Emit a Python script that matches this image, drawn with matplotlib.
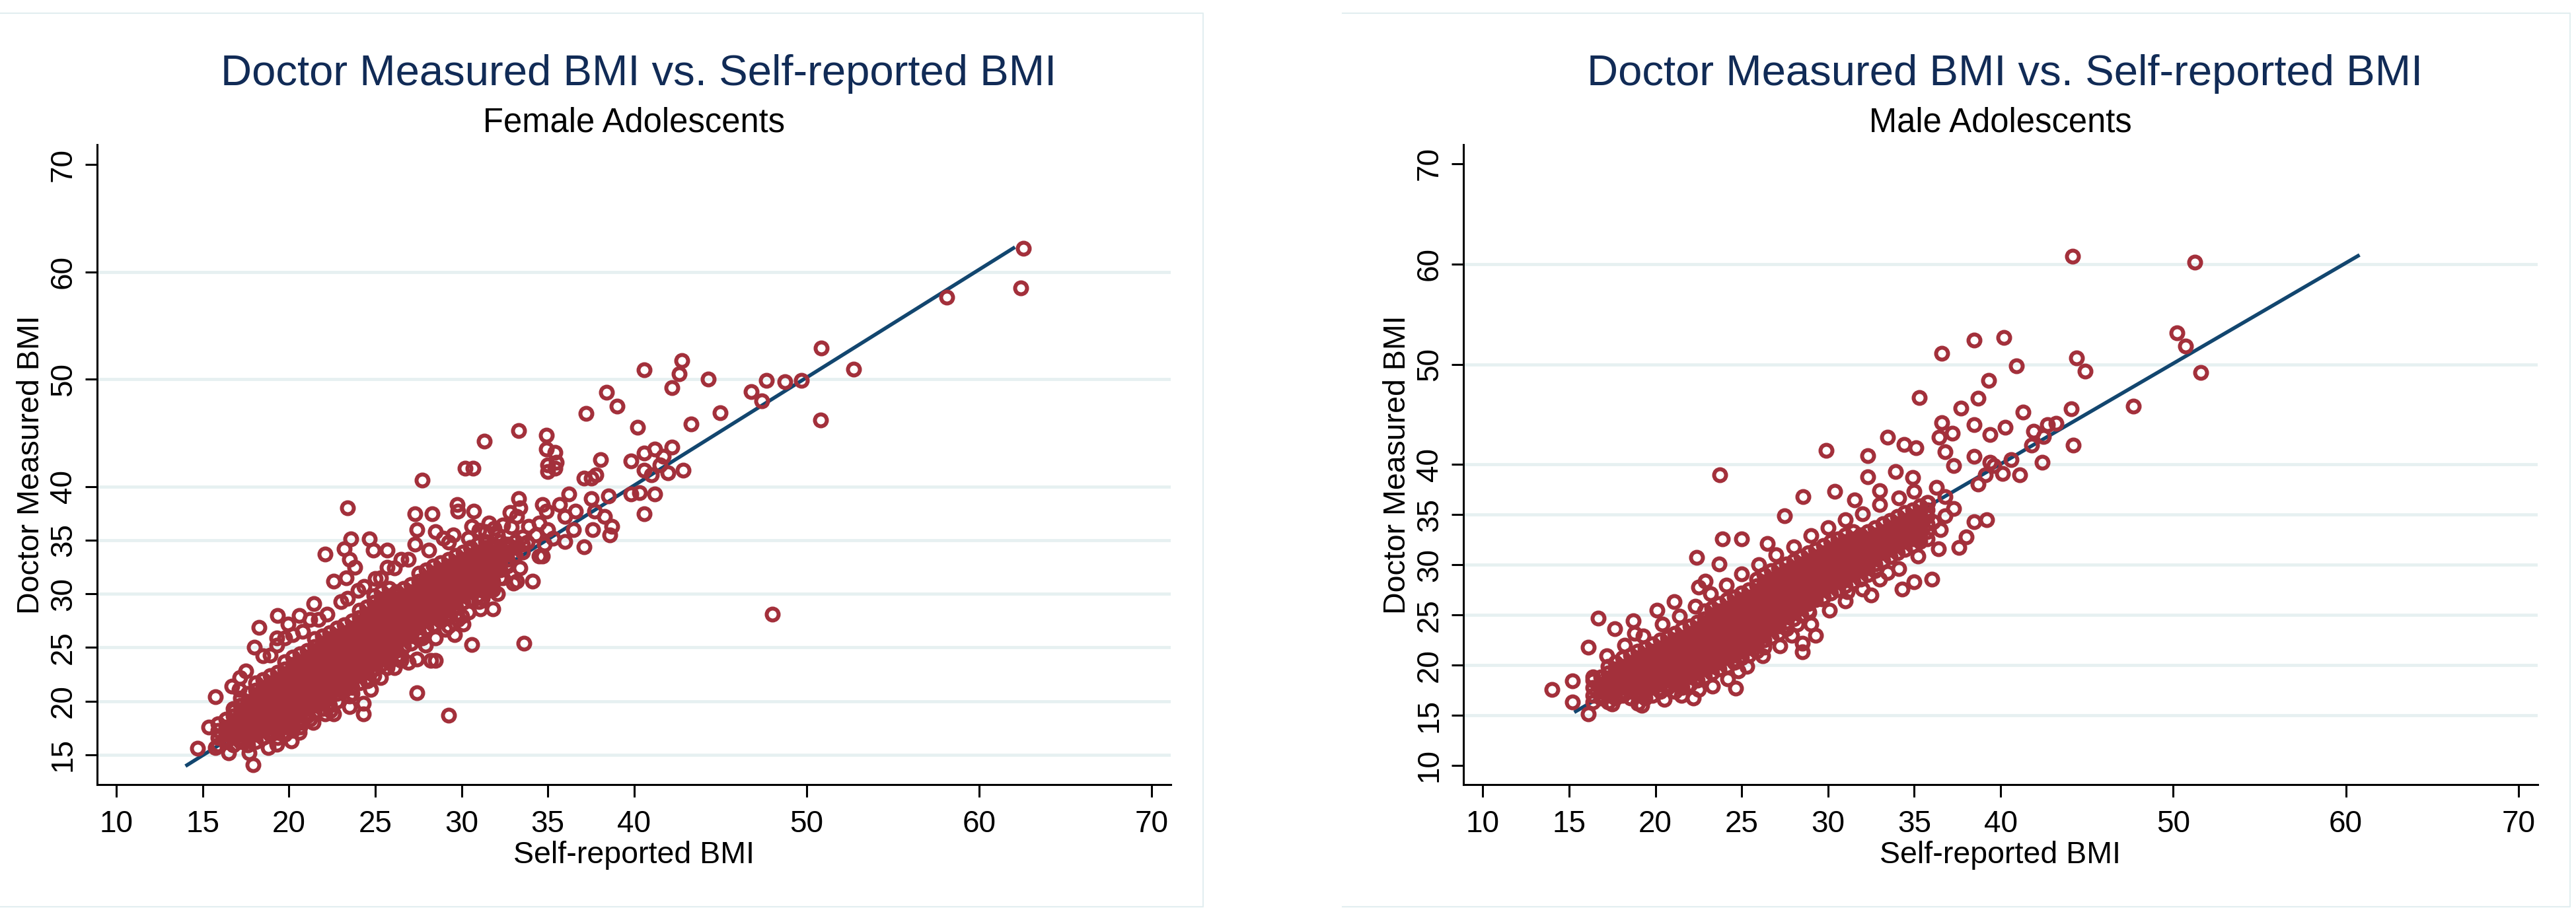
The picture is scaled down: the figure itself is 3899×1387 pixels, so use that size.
import matplotlib
matplotlib.use("Agg")
import matplotlib.pyplot as plt
from matplotlib.lines import Line2D

plt.rcParams["font.family"] = ["Liberation Sans", "DejaVu Sans"]

MARKER_C = "#A3303B"
FIT_C = "#12466F"
TITLE_C = "#112B56"
GRID_C = "#E6F0F1"
FRAME_C = "#E2EEF0"

TITLE = "Doctor Measured BMI vs. Self-reported BMI"
SUBTITLES = ["Female Adolescents", "Male Adolescents"]
XLABEL = "Self-reported BMI"
YLABEL = "Doctor Measured BMI"

X_TICKS = [10, 15, 20, 25, 30, 35, 40, 50, 60, 70]
FEM_Y_TICKS = [15, 20, 25, 30, 35, 40, 50, 60, 70]
MALE_Y_TICKS = [10, 15, 20, 25, 30, 35, 40, 50, 60, 70]
# Stata leaves out the gridline next to the edge of the plot region
FEM_GRID = [15, 20, 25, 30, 35, 40, 50, 60]
MALE_GRID = [15, 20, 25, 30, 35, 40, 50, 60]

# fitted line end points
FEM_FIT_X = [14.0, 62.07]
FEM_FIT_Y = [13.95, 62.3]
MALE_FIT_X = [15.3, 60.8]
MALE_FIT_Y = [15.3, 60.9]

# --- female: dense core, one column of points per self-reported value ---
FEM_CORE = [
    (15.90, [15.9, 16.6, 17.3, 17.9]),
    (16.33, [16.2, 16.9, 17.6, 18.3]),
    (16.76, [15.9, 16.6, 17.3, 17.9, 18.6, 19.3]),
    (17.19, [16.2, 16.9, 17.6, 18.3, 19.0, 19.6, 20.3]),
    (17.62, [15.9, 16.6, 17.3, 17.9, 18.6, 19.3, 20.0, 20.7]),
    (18.05, [16.2, 16.9, 17.6, 18.3, 19.0, 19.6, 20.3, 21.0, 21.7]),
    (18.48, [16.6, 17.3, 17.9, 18.6, 19.3, 20.0, 20.7, 21.3, 22.0]),
    (18.91, [16.9, 17.6, 18.3, 19.0, 19.6, 20.3, 21.0, 21.7, 22.4]),
    (19.34, [16.6, 17.3, 17.9, 18.6, 19.3, 20.0, 20.7, 21.3, 22.0, 22.7]),
    (19.77, [16.9, 17.6, 18.3, 19.0, 19.6, 20.3, 21.0, 21.7, 22.4, 23.0, 23.7]),
    (20.20, [17.3, 17.9, 18.6, 19.3, 20.0, 20.7, 21.3, 22.0, 22.7, 23.4, 24.1]),
    (20.63, [17.6, 18.3, 19.0, 19.6, 20.3, 21.0, 21.7, 22.4, 23.0, 23.7, 24.4]),
    (21.06, [18.6, 19.3, 20.0, 20.7, 21.3, 22.0, 22.7, 23.4, 24.1, 24.7]),
    (21.49, [19.0, 19.6, 20.3, 21.0, 21.7, 22.4, 23.0, 23.7, 24.4, 25.1, 25.8]),
    (21.92, [19.3, 20.0, 20.7, 21.3, 22.0, 22.7, 23.4, 24.1, 24.7, 25.4, 26.1]),
    (22.35, [19.6, 20.3, 21.0, 21.7, 22.4, 23.0, 23.7, 24.4, 25.1, 25.8, 26.4]),
    (22.78, [20.0, 20.7, 21.3, 22.0, 22.7, 23.4, 24.1, 24.7, 25.4, 26.1, 26.8]),
    (23.21, [21.0, 21.7, 22.4, 23.0, 23.7, 24.4, 25.1, 25.8, 26.4, 27.1]),
    (23.64, [20.7, 21.3, 22.0, 22.7, 23.4, 24.1, 24.7, 25.4, 26.1, 26.8, 27.5]),
    (24.07, [21.7, 22.4, 23.0, 23.7, 24.4, 25.1, 25.8, 26.4, 27.1, 27.8, 28.5]),
    (24.50, [22.0, 22.7, 23.4, 24.1, 24.7, 25.4, 26.1, 26.8, 27.5, 28.1, 28.8]),
    (24.93, [22.4, 23.0, 23.7, 24.4, 25.1, 25.8, 26.4, 27.1, 27.8, 28.5, 29.2, 29.8]),
    (25.36, [23.4, 24.1, 24.7, 25.4, 26.1, 26.8, 27.5, 28.1, 28.8, 29.5, 30.2]),
    (25.79, [23.7, 24.4, 25.1, 25.8, 26.4, 27.1, 27.8, 28.5, 29.2, 29.8, 30.5]),
    (26.22, [24.1, 24.7, 25.4, 26.1, 26.8, 27.5, 28.1, 28.8, 29.5, 30.2]),
    (26.65, [25.1, 25.8, 26.4, 27.1, 27.8, 28.5, 29.2, 29.8, 30.5]),
    (27.08, [25.4, 26.1, 26.8, 27.5, 28.1, 28.8, 29.5, 30.2, 30.9]),
    (27.51, [25.8, 26.4, 27.1, 27.8, 28.5, 29.2, 29.8, 30.5, 31.2, 31.9]),
    (27.94, [26.8, 27.5, 28.1, 28.8, 29.5, 30.2, 30.9, 31.5, 32.2]),
    (28.37, [27.1, 27.8, 28.5, 29.2, 29.8, 30.5, 31.2, 31.9, 32.6]),
    (28.80, [27.5, 28.1, 28.8, 29.5, 30.2, 30.9, 31.5, 32.2, 32.9]),
    (29.23, [27.8, 28.5, 29.2, 29.8, 30.5, 31.2, 31.9, 32.6, 33.2]),
    (29.66, [28.1, 28.8, 29.5, 30.2, 30.9, 31.5, 32.2, 32.9, 33.6]),
    (30.09, [29.2, 29.8, 30.5, 31.2, 31.9, 32.6, 33.2, 33.9]),
    (30.52, [29.5, 30.2, 30.9, 31.5, 32.2, 32.9, 33.6, 34.3]),
    (30.95, [29.8, 30.5, 31.2, 31.9, 32.6, 33.2, 33.9, 34.6]),
    (31.38, [30.2, 30.9, 31.5, 32.2, 32.9, 33.6, 34.3, 34.9]),
    (31.81, [30.5, 31.2, 31.9, 32.6, 33.2, 33.9, 34.6]),
    (32.24, [31.5, 32.2, 32.9, 33.6, 34.3, 34.9]),
    (32.67, [32.6, 33.2, 33.9, 34.6]),
    (33.10, [33.6, 34.3, 34.9]),
    (33.53, [33.9, 34.6, 35.3]),
]

# --- female: scattered points around the core and outliers ---
FEM_X = [
    14.7, 17.9, 15.75, 15.35, 16.8, 17.15, 17.1, 18.25, 18.0, 19.35, 19.95, 20.6,
    21.45, 19.3, 18.9, 19.75, 21.7, 20.8, 20.15, 18.8, 20.8, 22.1, 23.5, 24.3,
    24.3, 24.55, 27.4, 29.25, 25.7, 26.5, 27.4, 28.2, 28.5, 30.6, 33.6, 29.6,
    30.1, 29.25, 31.1, 31.8, 32.1, 33.0, 33.2, 34.1, 33.4, 34.5, 34.7, 23.0,
    24.0, 22.6, 23.3, 23.8, 23.5, 23.2, 23.6, 22.1, 23.4, 24.65, 24.9, 25.7,
    25.0, 25.7, 26.5, 27.3, 27.4, 27.3, 28.3, 27.7, 28.5, 28.95, 29.5, 29.75,
    29.8, 30.7, 30.6, 30.2, 30.65, 31.3, 31.6, 32.1, 32.8, 33.3, 33.4, 33.2,
    33.3, 34.9, 34.9, 35.4, 35.5, 35.0, 35.0, 35.4, 34.7, 34.9, 35.7, 36.2,
    36.6, 36.0, 36.5, 36.0, 37.1, 37.5, 37.7, 37.1, 37.5, 37.8, 38.05, 37.2,
    38.4, 39.0, 37.6, 38.3, 38.7, 38.6, 38.5, 39.8, 40.2, 40.6, 39.8, 40.3,
    40.6, 41.2, 40.6, 41.2, 41.7, 42.2, 40.6, 41.0, 41.95, 41.5, 42.85, 42.2,
    42.6, 42.75, 43.3, 44.3, 45.0, 46.8, 47.4, 47.65, 48.75, 49.7, 50.8, 50.85,
    52.7, 48.0, 58.1, 62.4, 62.57,
    33.8, 34.3, 34.8, 35.3, 33.9, 34.5, 35.0, 32.9, 32.4, 31.0, 31.9,
    29.05, 29.8, 31.0, 31.6, 27.7, 26.5,
    22.4, 21.2, 20.6, 19.3, 17.7, 16.5, 15.75,
    21.4, 22.6, 23.5, 24.75, 25.3, 26.1, 26.9, 27.9, 28.5, 29.05, 30.0, 30.4,
    31.2, 31.8, 32.4, 32.6,
    16.7, 17.5, 18.5, 19.3, 20.2, 21.2, 22.2, 23.4, 24.35, 25.3, 26.1, 26.9,
    28.1, 29.25, 30.4, 31.4,
]
FEM_Y = [
    15.6, 14.1, 20.4, 17.6, 19.1, 22.2, 21.1, 26.9, 25.0, 28.0, 27.2, 28.0,
    29.1, 25.2, 24.3, 25.9, 27.6, 26.5, 16.3, 15.7, 18.0, 18.8, 20.5, 19.8,
    18.8, 21.9, 20.8, 18.7, 23.1, 23.8, 23.9, 23.8, 23.8, 25.3, 25.4, 26.2,
    27.2, 27.0, 28.6, 28.6, 30.0, 31.0, 31.2, 31.2, 32.4, 33.5, 33.5, 29.3,
    30.3, 31.2, 31.5, 32.5, 33.2, 34.2, 35.1, 33.7, 38.0, 35.1, 34.1, 34.1,
    31.4, 32.5, 33.2, 34.6, 36.0, 37.45, 37.45, 40.6, 35.8, 35.2, 35.5, 38.3,
    37.7, 37.7, 36.3, 41.7, 41.7, 44.2, 36.6, 35.5, 37.6, 38.9, 38.0, 37.2,
    45.2, 44.8, 43.5, 43.2, 42.25, 42.0, 41.4, 41.7, 38.3, 37.7, 38.3, 39.3,
    37.7, 37.2, 36.0, 34.9, 34.35, 38.9, 37.7, 40.8, 40.8, 41.1, 42.5, 46.8,
    48.8, 47.5, 36.0, 37.2, 36.3, 35.5, 39.1, 42.4, 45.5, 50.85, 39.3, 39.4,
    37.45, 39.3, 43.1, 43.5, 42.8, 43.7, 41.5, 41.1, 41.3, 42.0, 41.5, 49.2,
    50.5, 51.7, 45.8, 50.0, 46.9, 48.85, 47.97, 49.9, 49.75, 49.9, 46.2, 52.9,
    50.9, 28.1, 57.65, 58.5, 62.2,
    34.8, 35.5, 34.6, 35.2, 36.3, 36.6, 36.0, 36.2, 36.4, 35.9, 36.1,
    27.9, 27.6, 29.3, 30.4, 25.9, 24.2,
    19.1, 18.3, 17.1, 16.0, 15.2, 15.2, 15.7,
    18.0, 18.8, 19.5, 21.1, 22.2, 23.1, 23.6, 25.2, 25.9, 26.7, 27.9, 28.3,
    29.6, 30.4, 31.5, 32.7,
    21.4, 22.8, 24.2, 25.9, 26.2, 27.6, 28.1, 29.6, 30.7, 31.5, 32.4, 33.2,
    34.1, 34.8, 35.2, 35.8,
]

# --- male: dense core ---
MALE_CORE = [
    (16.40, [16.3, 17.0, 17.8, 18.5]),
    (16.83, [16.7, 17.4, 18.1, 18.8]),
    (17.26, [16.3, 17.0, 17.8, 18.5, 19.2, 19.9]),
    (17.69, [16.7, 17.4, 18.1, 18.8, 19.6, 20.3]),
    (18.12, [17.0, 17.8, 18.5, 19.2, 19.9, 20.7]),
    (18.55, [16.7, 17.4, 18.1, 18.8, 19.6, 20.3, 21.0]),
    (18.98, [17.0, 17.8, 18.5, 19.2, 19.9, 20.7, 21.4]),
    (19.41, [16.7, 17.4, 18.1, 18.8, 19.6, 20.3, 21.0, 21.7]),
    (19.84, [17.0, 17.8, 18.5, 19.2, 19.9, 20.7, 21.4, 22.1]),
    (20.27, [17.4, 18.1, 18.8, 19.6, 20.3, 21.0, 21.7, 22.5]),
    (20.70, [17.8, 18.5, 19.2, 19.9, 20.7, 21.4, 22.1, 22.8]),
    (21.13, [17.4, 18.1, 18.8, 19.6, 20.3, 21.0, 21.7, 22.5, 23.2]),
    (21.56, [17.8, 18.5, 19.2, 19.9, 20.7, 21.4, 22.1, 22.8, 23.6]),
    (21.99, [18.1, 18.8, 19.6, 20.3, 21.0, 21.7, 22.5, 23.2, 23.9]),
    (22.42, [18.5, 19.2, 19.9, 20.7, 21.4, 22.1, 22.8, 23.6, 24.3]),
    (22.85, [18.8, 19.6, 20.3, 21.0, 21.7, 22.5, 23.2, 23.9, 24.6, 25.4]),
    (23.28, [19.2, 19.9, 20.7, 21.4, 22.1, 22.8, 23.6, 24.3, 25.0, 25.7]),
    (23.71, [19.6, 20.3, 21.0, 21.7, 22.5, 23.2, 23.9, 24.6, 25.4, 26.1]),
    (24.14, [19.9, 20.7, 21.4, 22.1, 22.8, 23.6, 24.3, 25.0, 25.7, 26.5]),
    (24.57, [20.3, 21.0, 21.7, 22.5, 23.2, 23.9, 24.6, 25.4, 26.1, 26.8]),
    (25.00, [20.7, 21.4, 22.1, 22.8, 23.6, 24.3, 25.0, 25.7, 26.5, 27.2]),
    (25.43, [21.0, 21.7, 22.5, 23.2, 23.9, 24.6, 25.4, 26.1, 26.8, 27.5]),
    (25.86, [21.4, 22.1, 22.8, 23.6, 24.3, 25.0, 25.7, 26.5, 27.2, 27.9, 28.6]),
    (26.29, [22.5, 23.2, 23.9, 24.6, 25.4, 26.1, 26.8, 27.5, 28.3, 29.0]),
    (26.72, [22.8, 23.6, 24.3, 25.0, 25.7, 26.5, 27.2, 27.9, 28.6, 29.4]),
    (27.15, [23.2, 23.9, 24.6, 25.4, 26.1, 26.8, 27.5, 28.3, 29.0, 29.7]),
    (27.58, [23.6, 24.3, 25.0, 25.7, 26.5, 27.2, 27.9, 28.6, 29.4, 30.1]),
    (28.01, [24.6, 25.4, 26.1, 26.8, 27.5, 28.3, 29.0, 29.7, 30.4]),
    (28.44, [25.0, 25.7, 26.5, 27.2, 27.9, 28.6, 29.4, 30.1, 30.8]),
    (28.87, [25.4, 26.1, 26.8, 27.5, 28.3, 29.0, 29.7, 30.4, 31.2]),
    (29.30, [26.5, 27.2, 27.9, 28.6, 29.4, 30.1, 30.8, 31.5]),
    (29.73, [26.8, 27.5, 28.3, 29.0, 29.7, 30.4, 31.2, 31.9]),
    (30.16, [27.2, 27.9, 28.6, 29.4, 30.1, 30.8, 31.5, 32.3]),
    (30.59, [27.5, 28.3, 29.0, 29.7, 30.4, 31.2, 31.9, 32.6]),
    (31.02, [27.9, 28.6, 29.4, 30.1, 30.8, 31.5, 32.3, 33.0]),
    (31.45, [28.3, 29.0, 29.7, 30.4, 31.2, 31.9, 32.6, 33.3]),
    (31.88, [28.6, 29.4, 30.1, 30.8, 31.5, 32.3, 33.0]),
    (32.31, [29.0, 29.7, 30.4, 31.2, 31.9, 32.6, 33.3]),
    (32.74, [29.4, 30.1, 30.8, 31.5, 32.3, 33.0, 33.7]),
    (33.17, [30.4, 31.2, 31.9, 32.6, 33.3, 34.1]),
    (33.60, [30.8, 31.5, 32.3, 33.0, 33.7, 34.4]),
    (34.03, [31.2, 31.9, 32.6, 33.3, 34.1, 34.8]),
    (34.46, [31.5, 32.3, 33.0, 33.7, 34.4, 35.2]),
    (34.89, [31.9, 32.6, 33.3, 34.1, 34.8, 35.5]),
    (35.32, [32.3, 33.0, 33.7, 34.4, 35.2, 35.9]),
    (35.75, [32.6, 33.3, 34.1, 34.8, 35.5, 36.2]),
]

# --- male: scattered points and outliers ---
MALE_X = [
    44.16, 51.25, 50.2, 50.7, 51.6, 40.2, 38.45, 36.6, 44.4, 44.9, 40.9, 39.3,
    35.3, 38.7, 37.7, 41.3, 44.1, 47.7, 36.6, 38.45, 40.25, 37.2, 39.4, 41.9,
    42.7, 43.2, 42.5, 36.45, 33.45, 34.4, 35.1, 29.9, 32.3, 44.2, 41.8,
    42.4, 40.6, 40.1, 39.4, 38.7, 37.6, 38.0, 38.45, 39.2, 36.5, 35.2, 36.0,
    35.0, 34.3, 33.45, 32.5, 31.1, 32.3, 23.75, 30.4, 28.55, 27.5, 26.5, 23.9,
    25.0, 22.4, 23.7, 22.5, 22.9, 16.7, 17.65, 18.8, 16.1, 14.0, 15.2, 15.2,
    16.4, 16.1, 19.2, 22.2, 22.5, 24.65, 24.8, 26.3, 28.5, 28.5, 29.3, 28.2,
    28.9, 29.65,
    36.8, 37.3, 38.45, 39.6, 41.1, 39.1, 34.9, 33.9, 33.0, 31.55, 35.8, 36.8,
    36.3, 37.3, 36.1, 36.8, 21.1, 20.1, 18.7,
    17.5, 19.0, 20.5, 21.5, 23.3, 24.2, 25.3, 26.2, 27.2, 27.9, 29.0, 30.1,
    31.0, 32.0, 33.0, 34.1, 35.2, 36.4,
    17.2, 18.2, 19.3, 20.4, 21.4, 22.3, 23.2, 24.1, 25.0, 26.0, 27.0, 28.0,
    29.0, 30.0, 31.0, 32.0, 33.0, 34.1, 35.0,
]
MALE_Y = [
    60.8, 60.2, 53.15, 51.8, 49.2, 52.7, 52.4, 51.1, 50.6, 49.3, 49.85, 48.4,
    46.7, 46.6, 45.6, 45.2, 45.55, 45.8, 44.2, 44.0, 43.7, 43.1, 43.0, 43.3,
    44.0, 44.1, 42.8, 42.7, 42.7, 42.0, 41.7, 41.4, 40.9, 41.95, 41.95,
    40.2, 40.5, 39.1, 40.2, 38.05, 31.7, 32.8, 34.3, 34.5, 33.5, 32.6, 28.6,
    28.3, 27.6, 29.2, 27.0, 27.3, 38.8, 39.0, 37.3, 36.8, 34.9, 32.15, 32.6,
    32.6, 30.75, 30.1, 27.8, 28.4, 24.7, 23.6, 23.2, 21.8, 17.6, 18.4, 16.3,
    18.8, 15.15, 16.0, 16.7, 17.6, 17.7, 19.4, 21.8, 21.3, 22.2, 23.0, 24.1,
    25.3, 26.6,
    41.3, 39.9, 40.8, 39.9, 39.0, 39.0, 38.7, 39.3, 37.4, 36.5, 36.2, 36.8,
    37.7, 35.6, 34.3, 34.9, 26.3, 25.5, 24.4,
    16.1, 16.2, 16.6, 17.0, 17.9, 18.6, 19.9, 20.9, 21.9, 23.0, 24.1, 25.5,
    26.4, 27.6, 28.6, 29.6, 30.9, 31.6,
    20.9, 22.0, 22.9, 24.1, 24.9, 25.9, 27.1, 28.0, 29.1, 30.0, 31.0, 31.8,
    32.9, 33.7, 34.5, 35.1, 36.0, 36.7, 37.3,
]


def flatten(core):
    xs, ys = [], []
    for x, col in core:
        xs += [x] * len(col)
        ys += col
    return xs, ys


def draw_panel(fig, ax, core, edge_x, edge_y, fit_x, fit_y, yticks, grid_y, ylim, subtitle):
    cx, cy = flatten(core)
    for g in grid_y:
        ax.axhline(g, color=GRID_C, lw=3.4, zorder=0)
    ax.plot(fit_x, fit_y, color=FIT_C, lw=4.0, solid_capstyle="butt", zorder=2)
    ax.plot(cx + edge_x, cy + edge_y, ls="none", marker="o", ms=13,
            mfc="none", mec=MARKER_C, mew=4.3, zorder=3)

    ax.set_xlim(8.88, 71.1)
    ax.set_ylim(*ylim)
    ax.set_xticks(X_TICKS)
    ax.set_yticks(yticks)
    ax.tick_params(axis="x", length=13.7, width=2.2, pad=14, labelsize=33)
    ax.tick_params(axis="y", length=13, width=2.2, pad=8, labelsize=33, labelrotation=90)
    plt.setp(ax.get_yticklabels(), va="center")
    for side in ("top", "right"):
        ax.spines[side].set_visible(False)
    for side in ("left", "bottom"):
        ax.spines[side].set_linewidth(2.2)

    ax.set_xlabel(XLABEL, fontsize=33.5)
    ax.xaxis.set_label_coords(0.5, -0.088)
    ax.set_ylabel(YLABEL, fontsize=33.5)
    ax.yaxis.set_label_coords(-0.048, 0.5)

    pos = ax.get_position()
    mid = (pos.x0 + pos.x1) / 2
    fig.text(mid + 7 / 3899, 0.907, TITLE, ha="center", va="baseline",
             fontsize=47, color=TITLE_C)
    fig.text(mid, 0.8565, subtitle, ha="center", va="baseline",
             fontsize=36.5, color="black")


def main():
    fig = plt.figure(figsize=(38.99, 13.87), dpi=100)
    fig.patch.set_facecolor("white")

    ax_f = fig.add_axes([0.0377, 0.1435, 0.4168, 0.6986])
    ax_m = fig.add_axes([0.5681, 0.1435, 0.4169, 0.6986])

    draw_panel(fig, ax_f, FEM_CORE, FEM_X, FEM_Y, FEM_FIT_X, FEM_FIT_Y,
               FEM_Y_TICKS, FEM_GRID, (12.23, 71.85), SUBTITLES[0])
    draw_panel(fig, ax_m, MALE_CORE, MALE_X, MALE_Y, MALE_FIT_X, MALE_FIT_Y,
               MALE_Y_TICKS, MALE_GRID, (8.09, 71.9), SUBTITLES[1])

    # light frames round the two graph regions
    top, bot = 1 - 20 / 1387, 1 - 1373 / 1387
    for x0, x1 in [(0.0, 1821 / 3899), (2032 / 3899, 3890 / 3899)]:
        fig.add_artist(Line2D([x0, x1, x1, x0], [top, top, bot, bot],
                              transform=fig.transFigure, color=FRAME_C, lw=1.5))

    fig.savefig("out.png", dpi=100, facecolor="white")


if __name__ == "__main__":
    main()
